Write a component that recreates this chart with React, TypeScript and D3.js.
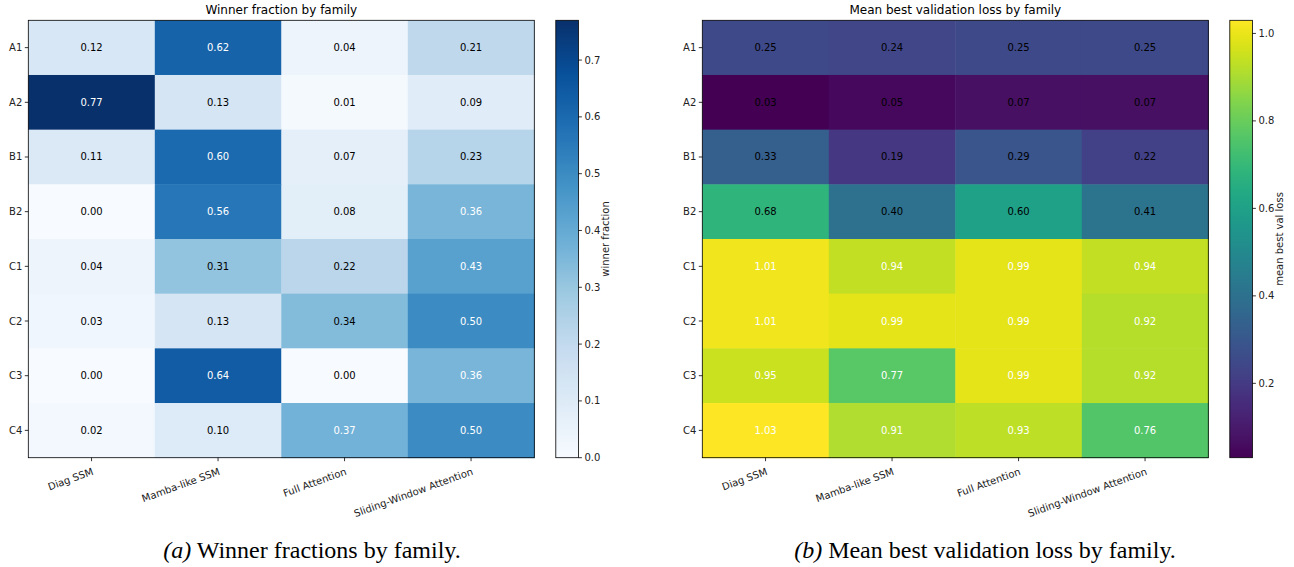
import React from "react";
import * as d3 from "d3";

// data
const families = ["Diag SSM", "Mamba-like SSM", "Full Attention", "Sliding-Window Attention"];
const tasks = ["A1", "A2", "B1", "B2", "C1", "C2", "C3", "C4"];

const winnerFraction = [
  [0.12, 0.62, 0.04, 0.21],
  [0.77, 0.13, 0.01, 0.09],
  [0.11, 0.6, 0.07, 0.23],
  [0.0, 0.56, 0.08, 0.36],
  [0.04, 0.31, 0.22, 0.43],
  [0.03, 0.13, 0.34, 0.5],
  [0.0, 0.64, 0.0, 0.36],
  [0.02, 0.1, 0.37, 0.5],
];

const meanValLoss = [
  [0.25, 0.24, 0.25, 0.25],
  [0.03, 0.05, 0.07, 0.07],
  [0.33, 0.19, 0.29, 0.22],
  [0.68, 0.4, 0.6, 0.41],
  [1.01, 0.94, 0.99, 0.94],
  [1.01, 0.99, 0.99, 0.92],
  [0.95, 0.77, 0.99, 0.92],
  [1.03, 0.91, 0.93, 0.76],
];

const winnerTicks = [0, 0.1, 0.2, 0.3, 0.4, 0.5, 0.6, 0.7];
const lossTicks = [0.2, 0.4, 0.6, 0.8, 1.0];

// matplotlib "Blues" = linear through the 9 colorbrewer stops
const bluesStops = ["#f7fbff", "#deebf7", "#c6dbef", "#9ecae1", "#6baed6", "#4292c6", "#2171b5", "#08519c", "#08306b"];
const blues = (t: number) =>
  d3.scaleLinear<string>().domain(d3.range(9).map((i) => i / 8)).range(bluesStops).interpolate(d3.interpolateRgb)(t);

const FONT = "DejaVu Sans, sans-serif";
const SERIF = "Liberation Serif, Times New Roman, serif";

type PanelProps = {
  x0: number;
  title: string;
  values: number[][];
  domain: [number, number];
  interp: (t: number) => string;
  ticks: number[];
  cbLabel: string;
  whiteAbove: number;
  id: string;
};

function Heatmap(p: PanelProps) {
  const top = 20.3;
  const bottom = 457.7;
  const w = 506;
  const cbX = p.x0 + w + 21.5;
  const cbW = 22.6;

  const x = d3.scaleBand().domain(families).range([p.x0, p.x0 + w]);
  const y = d3.scaleBand().domain(tasks).range([top, bottom]);
  const norm = d3.scaleLinear().domain(p.domain).range([0, 1]).clamp(true);
  const color = (v: number) => p.interp(norm(v));
  const cbY = d3.scaleLinear().domain(p.domain).range([bottom, top]);

  const stops = d3.range(0, 1.0001, 0.02);

  return (
    <g>
      <text x={p.x0 + w / 2} y={14} textAnchor="middle" fontSize={12} fontFamily={FONT} fill="#000">
        {p.title}
      </text>
      {p.values.map((row, i) =>
        row.map((v, j) => (
          <g key={`${i}-${j}`}>
            <rect
              x={x(families[j])}
              y={y(tasks[i])}
              width={x.bandwidth() + 0.5}
              height={y.bandwidth() + 0.5}
              fill={color(v)}
            />
            <text
              x={x(families[j])! + x.bandwidth() / 2}
              y={y(tasks[i])! + y.bandwidth() / 2}
              dy="0.35em"
              textAnchor="middle"
              fontSize={10}
              fontFamily={FONT}
              fill={v > p.whiteAbove ? "#fff" : "#000"}
            >
              {v.toFixed(2)}
            </text>
          </g>
        ))
      )}
      <rect x={p.x0} y={top} width={w} height={bottom - top} fill="none" stroke="#000" strokeWidth={0.8} />
      {tasks.map((t) => {
        const cy = y(t)! + y.bandwidth() / 2;
        return (
          <g key={t}>
            <line x1={p.x0 - 3.5} x2={p.x0} y1={cy} y2={cy} stroke="#000" strokeWidth={0.8} />
            <text x={p.x0 - 6} y={cy} dy="0.35em" textAnchor="end" fontSize={10} fontFamily={FONT} fill="#222">
              {t}
            </text>
          </g>
        );
      })}
      {families.map((f) => {
        const cx = x(f)! + x.bandwidth() / 2;
        return (
          <g key={f}>
            <line x1={cx} x2={cx} y1={bottom} y2={bottom + 3.5} stroke="#000" strokeWidth={0.8} />
            <text
              transform={`translate(${cx},${bottom + 9.5}) rotate(-20)`}
              dy="0.75em"
              textAnchor="end"
              fontSize={10}
              fontFamily={FONT}
              fill="#222"
            >
              {f}
            </text>
          </g>
        );
      })}

      {/* colorbar */}
      <defs>
        <linearGradient id={p.id} x1="0" y1="1" x2="0" y2="0">
          {stops.map((s) => (
            <stop key={s} offset={s} stopColor={p.interp(s)} />
          ))}
        </linearGradient>
      </defs>
      <rect x={cbX} y={top} width={cbW} height={bottom - top} fill={`url(#${p.id})`} stroke="#000" strokeWidth={0.8} />
      {p.ticks.map((t) => (
        <g key={t}>
          <line x1={cbX + cbW} x2={cbX + cbW + 3.5} y1={cbY(t)} y2={cbY(t)} stroke="#000" strokeWidth={0.8} />
          <text x={cbX + cbW + 6} y={cbY(t)} dy="0.35em" fontSize={10} fontFamily={FONT} fill="#222">
            {t.toFixed(1)}
          </text>
        </g>
      ))}
      <text
        transform={`translate(${cbX + cbW + 31},${(top + bottom) / 2}) rotate(-90)`}
        textAnchor="middle"
        fontSize={10}
        fontFamily={FONT}
        fill="#222"
      >
        {p.cbLabel}
      </text>
    </g>
  );
}

export default function App() {
  return (
    <div style={{ position: "absolute", left: 0, top: 0 }}>
      <svg width={1294} height={567} style={{ display: "block", background: "#fff" }}>
        <Heatmap
          x0={28.3}
          title="Winner fraction by family"
          values={winnerFraction}
          domain={[0, 0.77]}
          interp={blues}
          ticks={winnerTicks}
          cbLabel="winner fraction"
          whiteAbove={0.35}
          id="cb-blues"
        />
        <Heatmap
          x0={702.3}
          title="Mean best validation loss by family"
          values={meanValLoss}
          domain={[0.03, 1.03]}
          interp={d3.interpolateViridis}
          ticks={lossTicks}
          cbLabel="mean best val loss"
          whiteAbove={0.7}
          id="cb-viridis"
        />
        <text x={312} y={558} textAnchor="middle" fontSize={24} fontFamily={SERIF}>
          <tspan fontStyle="italic">(a)</tspan> Winner fractions by family.
        </text>
        <text x={985} y={558} textAnchor="middle" fontSize={24} fontFamily={SERIF}>
          <tspan fontStyle="italic">(b)</tspan> Mean best validation loss by family.
        </text>
      </svg>
    </div>
  );
}
